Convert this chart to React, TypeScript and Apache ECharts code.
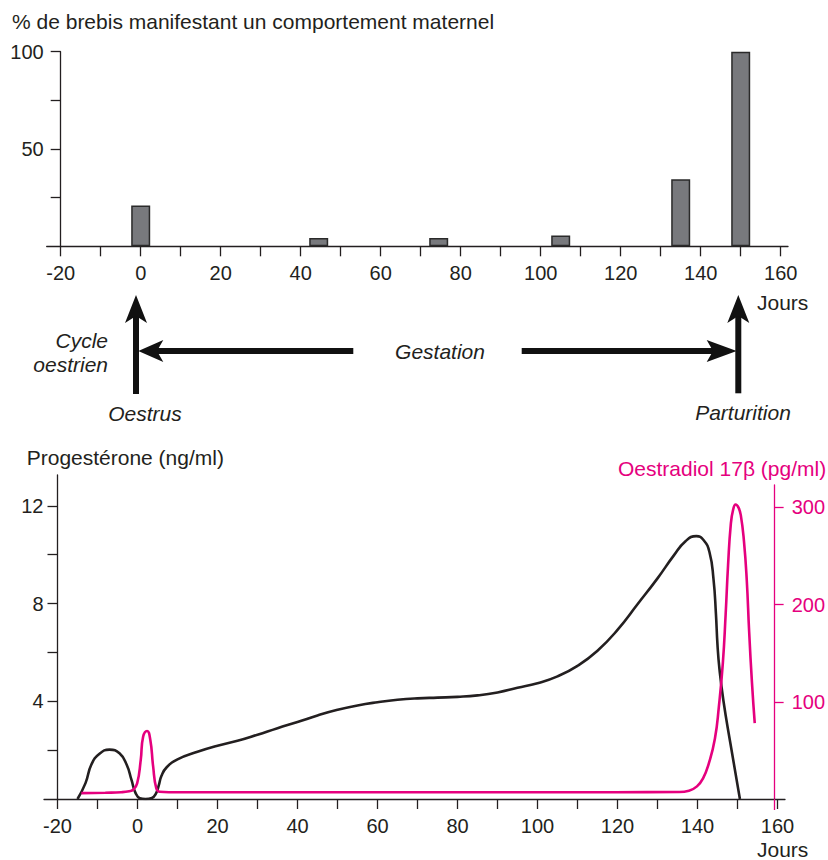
import React, { useEffect, useRef } from 'react';
import * as echarts from 'echarts';

// ---- data ----
const barDays = [0, 44.5, 74.5, 105, 135, 150];
const barPercent = [21, 4.3, 4.3, 5.6, 34.5, 100];

const progDays = [-15, -13, -11.5, -9.5, -7, -4.5, -2.7, -1.5, -0.5, 0.6, 2, 3.6, 4.6, 5.3, 6, 7.3, 10, 15, 20, 25, 30, 35, 40, 45, 50, 55, 60, 65, 70, 75, 80, 85, 90, 95, 100, 105, 110, 115, 120, 125, 130, 134, 137, 139.7, 141.5, 143, 144, 144.6, 145, 145.5, 146.5, 148.2, 150.6];
const progValues = [0, 0.65, 1.42, 1.85, 2.02, 1.87, 1.4, 0.78, 0.25, 0.03, 0, 0.04, 0.22, 0.55, 0.95, 1.3, 1.62, 1.93, 2.18, 2.38, 2.63, 2.9, 3.15, 3.42, 3.65, 3.83, 3.96, 4.06, 4.12, 4.15, 4.18, 4.24, 4.36, 4.55, 4.74, 5.02, 5.45, 6.07, 6.92, 7.97, 9.03, 9.95, 10.55, 10.76, 10.6, 10.1, 9.0, 7.6, 6.3, 5.3, 4.0, 2.3, 0];

const oestDays = [-14, -8, -4, -2, -1, 0, 0.9, 1.5, 2.5, 3.3, 4, 4.8, 5.6, 8, 30, 60, 90, 120, 136, 138.5, 140.5, 142, 143.5, 145, 146, 147, 147.7, 148.3, 149, 149.6, 150.2, 150.9, 151.5, 152.3, 153, 153.6, 154.3, 155];
const oestValues = [6, 6.5, 7, 8, 9.5, 16, 40, 64, 70, 61, 34, 11, 7.5, 7, 7, 7, 7, 7, 7.2, 8.5, 13, 21, 37, 62, 95, 140, 190, 240, 283, 298, 303, 300, 292, 265, 225, 172, 120, 78];

const dayTicks = [-20, -10, 0, 10, 20, 30, 40, 50, 60, 70, 80, 90, 100, 110, 120, 130, 140, 150, 160];
const dayLabels = [-20, 0, 20, 40, 60, 80, 100, 120, 140, 160];
const pctTicks = [25, 50, 75, 100];
const pctLabels = [50, 100];
const progTicks = [2, 4, 6, 8, 10, 12];
const progLabels = [4, 8, 12];
const oestTicks = [100, 200, 300];

const INK = '#231f20';
const PINK = '#e5007e';
const BAR = '#78797d';
const FONT = '"Liberation Sans", Arial, Helvetica, sans-serif';

function dayAxis(gridIndex: number, min: number, max: number) {
  return {
    type: 'value', gridIndex, min, max,
    axisLine: { show: true, onZero: false, lineStyle: { color: INK, width: 1.3 } },
    axisTick: { show: true, customValues: dayTicks, length: 10, lineStyle: { color: INK, width: 1.3 } },
    axisLabel: { show: true, customValues: dayLabels, margin: 17, color: INK, fontSize: 20, fontFamily: FONT },
    splitLine: { show: false },
  };
}

function txt(text: string, x: number, y: number, opts: any = {}) {
  return {
    type: 'text', x, y, silent: true,
    style: {
      text, fill: opts.fill || INK,
      fontSize: opts.size || 21, fontFamily: FONT, fontStyle: opts.italic ? 'italic' : 'normal',
      align: opts.align || 'left', verticalAlign: 'middle',
    },
  };
}

function rect(x: number, y: number, w: number, h: number) {
  return { type: 'rect', shape: { x, y, width: w, height: h }, style: { fill: '#111' }, silent: true };
}

function head(points: number[][]) {
  return { type: 'polygon', shape: { points }, style: { fill: '#111' }, silent: true };
}

export default function App() {
  const ref = useRef<HTMLDivElement>(null);
  useEffect(() => {
    if (!ref.current) return;
    const chart = echarts.init(ref.current, undefined, { renderer: 'svg' });
    const option: any = {
      animation: false,
      backgroundColor: '#ffffff',
      textStyle: { fontFamily: FONT },
      grid: [
        { left: 46.7, right: 40, top: 51.7, bottom: 613.7 },
        { left: 44, right: 43, top: 475, bottom: 61 },
        { left: 44, right: 43, top: 485, bottom: 61 },
      ],
      xAxis: [
        dayAxis(0, -23.5, 161.825),
        dayAxis(1, -23.375, 161.875),
        {
          type: 'value', gridIndex: 2, min: -23.375, max: 161.875, z: 5,
          axisLine: { show: false },
          axisTick: { show: true, customValues: [160], length: 11, lineStyle: { color: PINK, width: 1.3 } },
          axisLabel: { show: false },
          splitLine: { show: false },
        },
      ],
      yAxis: [
        {
          type: 'value', gridIndex: 0, min: 0, max: 100, offset: -14,
          axisLine: { show: true, onZero: false, lineStyle: { color: INK, width: 1.3 } },
          axisTick: { show: true, customValues: pctTicks, length: 10, lineStyle: { color: INK, width: 1.3 } },
          axisLabel: { customValues: pctLabels, margin: 17, color: INK, fontSize: 20, fontFamily: FONT },
          splitLine: { show: false },
        },
        {
          type: 'value', gridIndex: 1, min: 0, max: 13.26, offset: -13.5,
          axisLine: { show: true, onZero: false, lineStyle: { color: INK, width: 1.3 } },
          axisTick: { show: true, customValues: progTicks, length: 10, lineStyle: { color: INK, width: 1.3 } },
          axisLabel: { customValues: progLabels, margin: 14, color: INK, fontSize: 20, fontFamily: FONT },
          splitLine: { show: false },
        },
        {
          type: 'value', gridIndex: 2, position: 'right', min: 0, max: 323, offset: -7.5,
          axisLine: { show: true, onZero: false, lineStyle: { color: PINK, width: 1.3 } },
          axisTick: { show: true, customValues: oestTicks, length: 9, lineStyle: { color: PINK, width: 1.3 } },
          axisLabel: { customValues: oestTicks, margin: 17, color: PINK, fontSize: 20, fontFamily: FONT },
          splitLine: { show: false },
        },
      ],
      series: [
        {
          type: 'bar', xAxisIndex: 0, yAxisIndex: 0, barWidth: 19,
          data: barDays.map((d, i) => [d, barPercent[i]]),
          itemStyle: { color: BAR, borderColor: '#2a2a2a', borderWidth: 1.5 },
        },
        {
          type: 'line', xAxisIndex: 1, yAxisIndex: 1, showSymbol: false, smooth: 0.5,
          data: progDays.map((d, i) => [d, progValues[i]]),
          lineStyle: { color: INK, width: 2.6 }, z: 3,
        },
        {
          type: 'line', xAxisIndex: 2, yAxisIndex: 2, showSymbol: false, smooth: 0.5,
          data: oestDays.map((d, i) => [d, oestValues[i]]),
          lineStyle: { color: PINK, width: 2.6 }, z: 4,
        },
      ],
      graphic: [
        txt('% de brebis manifestant un comportement maternel', 12, 21),
        txt('Jours', 757, 302),
        txt('Cycle', 108, 340, { italic: true, align: 'right' }),
        txt('oestrien', 108, 364, { italic: true, align: 'right' }),
        txt('Gestation', 440, 351, { italic: true, align: 'center' }),
        txt('Oestrus', 145, 413, { italic: true, align: 'center' }),
        txt('Parturition', 743, 412, { italic: true, align: 'center' }),
        rect(133, 316, 6, 78),
        rect(157, 348, 196.3, 6),
        rect(521.7, 348, 191.3, 6),
        rect(735.3, 316, 6, 77.3),
        head([[136, 295], [147, 323], [136, 316], [125, 323]]),
        head([[138.3, 351], [163.3, 340], [157, 351], [163.3, 362]]),
        head([[736.7, 351], [706.7, 340], [713, 351], [706.7, 362]]),
        head([[738.3, 295], [749.3, 323], [738.3, 316], [727.3, 323]]),
        txt('Progestérone (ng/ml)', 26.7, 457),
        txt('Oestradiol 17β (pg/ml)', 618, 468, { fill: PINK }),
        txt('Jours', 757, 849),
      ],
    };
    chart.setOption(option);
    return () => chart.dispose();
  }, []);
  return (
    <div
      ref={ref}
      style={{ position: 'absolute', left: 0, top: 0, width: 828, height: 860, background: '#fff' }}
    />
  );
}
